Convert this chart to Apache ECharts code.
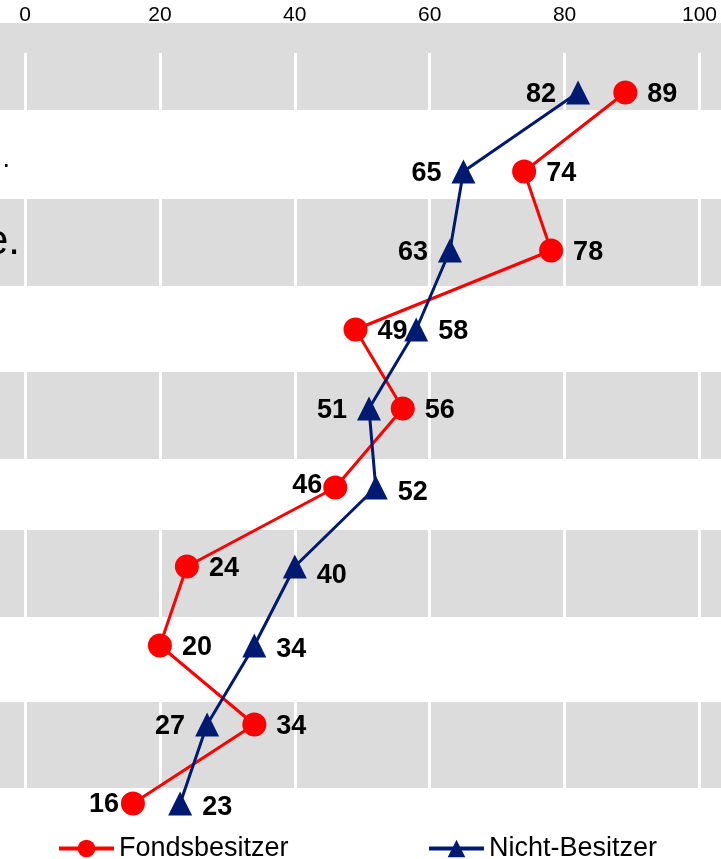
<!DOCTYPE html>
<html>
<head>
<meta charset="utf-8">
<script src="https://cdn.jsdelivr.net/npm/echarts@6/dist/echarts.min.js"></script>
<style>
  html, body { margin: 0; padding: 0; background: #ffffff; }
  #chart { width: 721px; height: 859px; }
</style>
</head>
<body>
<div id="chart"></div>
<script>
// ---- data ----
const categories = ['', '.', 'e.', '', '', '', '', '', '', ''];
const xTicks = [0, 20, 40, 60, 80, 100];
const seriesNames = ['Fondsbesitzer', 'Nicht-Besitzer'];
const fondsbesitzer = [89, 74, 78, 49, 56, 46, 24, 20, 34, 16];
const nichtBesitzer = [82, 65, 63, 58, 51, 52, 40, 34, 27, 23];

// ---- label placement (style, not data) ----
const fondsLabelPos = ['right', 'right', 'right', 'right', 'right', 'left', 'right', 'right', 'right', 'left'];
const nichtLabelPos = ['left', 'left', 'left', 'right', 'left', 'right', 'right', 'right', 'left', 'right'];
const fondsLabelDx = [0, 0, 0, 0, 0, 9, 0, 0, 0, 8];
const fondsLabelDy = [2, 2, 2, 2, 2, -2, 2, 2, 2, 1];
const nichtLabelDx = [0, 0, 0, 0, 0, 0, 0, 0, 0, 0];
const nichtLabelDy = [2, 2, 2, 2, 2, 5, 9, 4, 2, 4];

// background stripes of the original slide (decoration)
const stripes = [[23, 110], [199, 286], [372, 459], [530, 617], [702, 788]];

const FONT = '"Liberation Sans", Arial, sans-serif';
const RED = '#ff0000';
const NAVY = '#001a72';

function buildData(values, pos, dx, dy) {
  return values.map((v, i) => ({
    value: v,
    label: { position: pos[i], offset: [dx[i], dy[i]] }
  }));
}

const chart = echarts.init(document.getElementById('chart'), null, { renderer: 'canvas' });

const option = {
  backgroundColor: '#ffffff',
  animation: false,
  graphic: stripes.map(s => ({
    type: 'rect',
    z: -10,
    silent: true,
    shape: { x: 0, y: s[0], width: 721, height: s[1] - s[0] },
    style: { fill: '#dcdcdc' }
  })),
  grid: { left: 25, right: 21.5, top: 53, bottom: 16, containLabel: false, outerBoundsMode: 'none' },
  xAxis: {
    type: 'value',
    position: 'top',
    min: xTicks[0],
    max: xTicks[xTicks.length - 1],
    interval: xTicks[1] - xTicks[0],
    axisLine: { show: false },
    axisTick: { show: false },
    splitLine: { show: true, lineStyle: { color: '#ffffff', width: 3 } },
    axisLabel: { color: '#000', fontFamily: FONT, fontSize: 21, margin: 27 }
  },
  yAxis: {
    type: 'category',
    inverse: true,
    data: categories,
    axisLine: { show: false },
    axisTick: { show: false },
    splitLine: { show: false },
    axisLabel: {
      margin: 5,
      color: '#000',
      fontFamily: FONT,
      formatter: function (val, idx) {
        if (!val) return '';
        return idx === 1 ? '{s|' + val + '}' : '{b|' + val + '}';
      },
      rich: {
        s: { fontSize: 27, fontFamily: FONT, color: '#000', padding: [0, 10, 23, 0] },
        b: { fontSize: 42, fontFamily: FONT, color: '#000', padding: [0, 0, 17, 0] }
      }
    }
  },
  legend: [
    {
      data: [seriesNames[0]],
      left: 57, top: 835, padding: 0,
      itemWidth: 55, itemHeight: 22, itemGap: 0,
      lineStyle: { width: 4 },
      textStyle: { fontFamily: FONT, fontSize: 27, color: '#000' }
    },
    {
      data: [seriesNames[1]],
      left: 427, top: 835, padding: 0,
      itemWidth: 55, itemHeight: 22, itemGap: 0,
      lineStyle: { width: 4 },
      textStyle: { fontFamily: FONT, fontSize: 27, color: '#000' }
    }
  ],
  series: [
    {
      name: seriesNames[0],
      type: 'line',
      data: buildData(fondsbesitzer, fondsLabelPos, fondsLabelDx, fondsLabelDy),
      symbol: 'circle',
      symbolSize: 24,
      lineStyle: { color: RED, width: 3 },
      itemStyle: { color: RED },
      label: { show: true, distance: 10, fontFamily: FONT, fontSize: 27, fontWeight: 'bold', color: '#000' }
    },
    {
      name: seriesNames[1],
      type: 'line',
      data: buildData(nichtBesitzer, nichtLabelPos, nichtLabelDx, nichtLabelDy),
      symbol: 'triangle',
      symbolSize: 24,
      lineStyle: { color: NAVY, width: 3 },
      itemStyle: { color: NAVY },
      label: { show: true, distance: 10, fontFamily: FONT, fontSize: 27, fontWeight: 'bold', color: '#000' }
    }
  ]
};

chart.setOption(option);
</script>
</body>
</html>
